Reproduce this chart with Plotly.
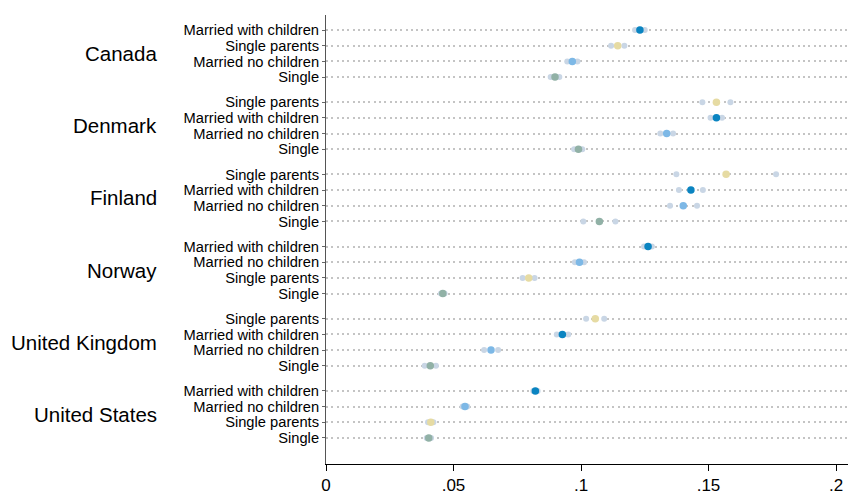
import plotly.graph_objects as go

countries = ["Canada", "Denmark", "Finland", "Norway", "United Kingdom", "United States"]

groups = [
    ["Married with children", "Single parents", "Married no children", "Single"],
    ["Single parents", "Married with children", "Married no children", "Single"],
    ["Single parents", "Married with children", "Married no children", "Single"],
    ["Married with children", "Married no children", "Single parents", "Single"],
    ["Single parents", "Married with children", "Married no children", "Single"],
    ["Married with children", "Married no children", "Single parents", "Single"],
]

estimate = [
    [0.1231, 0.1144, 0.0966, 0.0898],
    [0.1531, 0.1531, 0.1336, 0.0990],
    [0.1569, 0.1431, 0.1401, 0.1072],
    [0.1263, 0.0994, 0.0795, 0.0458],
    [0.1056, 0.0927, 0.0647, 0.0409],
    [0.0821, 0.0545, 0.0411, 0.0403],
]

ci_low = [
    [0.1212, 0.1118, 0.0946, 0.0881],
    [0.1476, 0.1508, 0.1311, 0.0973],
    [0.1374, 0.1384, 0.1349, 0.1009],
    [0.1247, 0.0976, 0.0771, 0.0451],
    [0.1020, 0.0905, 0.0620, 0.0387],
    [0.0813, 0.0536, 0.0400, 0.0395],
]

ci_high = [
    [0.1250, 0.1170, 0.0986, 0.0915],
    [0.1586, 0.1553, 0.1361, 0.1005],
    [0.1765, 0.1478, 0.1455, 0.1135],
    [0.1278, 0.1012, 0.0818, 0.0465],
    [0.1091, 0.0950, 0.0675, 0.0431],
    [0.0830, 0.0554, 0.0421, 0.0412],
]

x_ticks = [0, 0.05, 0.1, 0.15, 0.2]
x_tick_labels = ["0", ".05", ".1", ".15", ".2"]

group_colors = {
    "Married with children": "#0a84c1",
    "Single parents": "#e6dba3",
    "Married no children": "#7db8e6",
    "Single": "#91b1a6",
}
ci_color = "#c9d6e5"
FONT = "Liberation Sans, Arial, Helvetica, sans-serif"

ys, labels, est_flat, lo_flat, hi_flat, cols = [], [], [], [], [], []
country_centers = []
for g, c in enumerate(countries):
    yy = []
    for r, lab in enumerate(groups[g]):
        y = -(g * 4.6 + r)
        yy.append(y)
        ys.append(y)
        labels.append(lab)
        est_flat.append(estimate[g][r])
        lo_flat.append(ci_low[g][r])
        hi_flat.append(ci_high[g][r])
        cols.append(group_colors[lab])
    country_centers.append(sum(yy) / len(yy))

fig = go.Figure()
fig.add_trace(go.Scatter(
    x=lo_flat + hi_flat, y=ys + ys, mode="markers",
    marker=dict(size=6, color=ci_color, line=dict(width=0)),
    showlegend=False, hoverinfo="skip",
))
fig.add_trace(go.Scatter(
    x=est_flat, y=ys, mode="markers",
    marker=dict(size=7.5, color=cols, line=dict(width=0)),
    showlegend=False,
))

L, R, T, B = 326, 3, 15, 33
plot_w = 851 - L - R

for c, yc in zip(countries, country_centers):
    fig.add_annotation(
        x=(159 - L) / plot_w, y=yc, xref="paper", yref="y", text=c, showarrow=False,
        xanchor="right", yanchor="middle",
        font=dict(family=FONT, size=20.5, color="#000000"),
    )

fig.update_layout(
    width=851, height=497,
    margin=dict(l=L, r=R, t=T, b=B),
    paper_bgcolor="white", plot_bgcolor="white",
    font=dict(family=FONT, color="#000000"),
    xaxis=dict(
        range=[0, plot_w / 2550.0],
        tickvals=x_ticks, ticktext=x_tick_labels,
        ticks="outside", ticklen=6, tickcolor="#000000", tickwidth=1,
        tickfont=dict(size=17, family=FONT),
        showline=True, linecolor="#000000", linewidth=1,
        showgrid=False, zeroline=False,
    ),
    yaxis=dict(
        range=[-27.66, 0.956],
        tickvals=ys, ticktext=labels,
        ticks="outside", ticklen=3, tickcolor="#666666",
        tickfont=dict(size=14.7, family=FONT),
        showline=True, linecolor="#555555", linewidth=1,
        showgrid=True, gridcolor="#c4c4c4", gridwidth=2, griddash="2px,3.3px",
        zeroline=False,
    ),
)

fig.write_html(
    "out.html",
    config={"displayModeBar": False},
    post_script="document.body.style.margin='0';document.body.style.overflow='hidden';",
)
